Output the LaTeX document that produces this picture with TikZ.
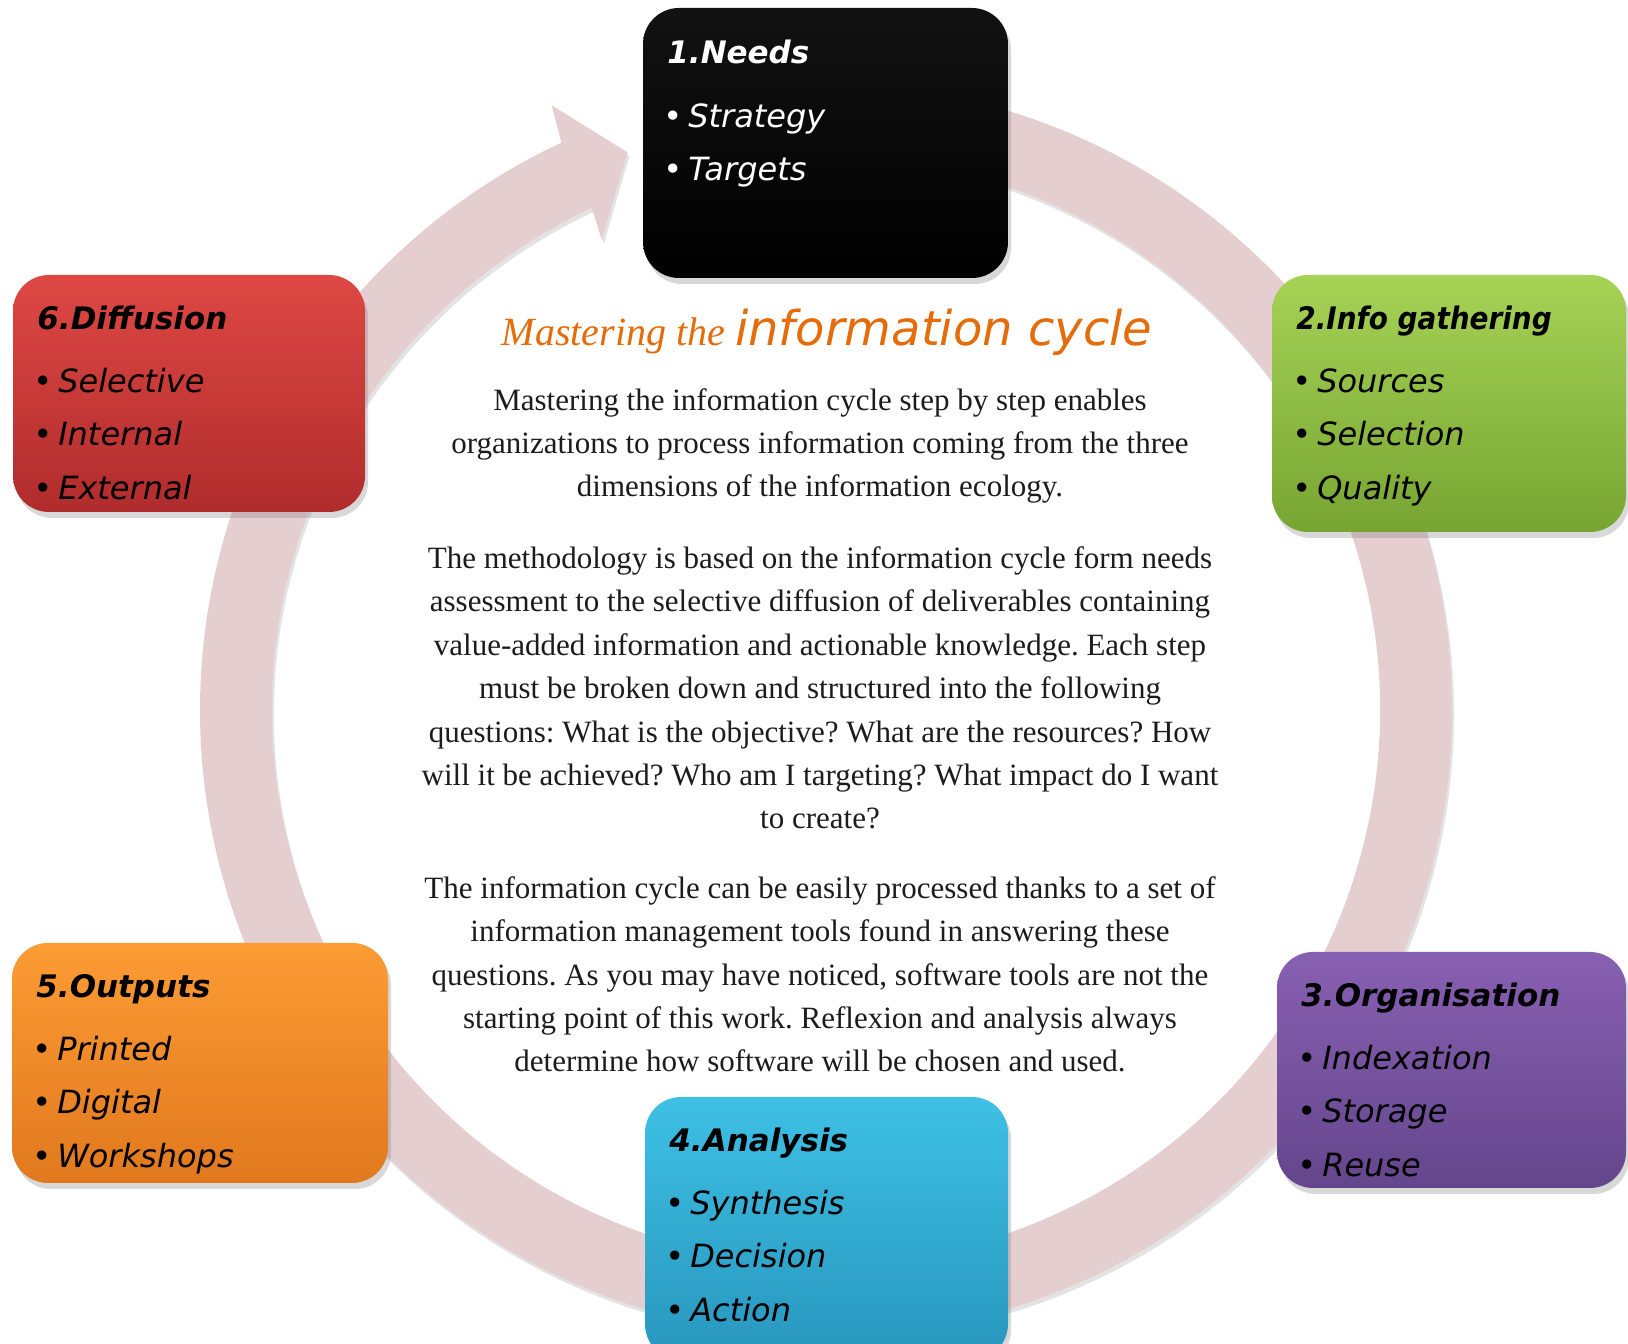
\documentclass[tikz,border=0pt]{standalone}
\usepackage{fontspec}
\setmainfont{Liberation Serif}
\newfontfamily\handfont{DejaVu Sans}
\usetikzlibrary{shadows,calc}
\frenchspacing
\definecolor{ringc}{RGB}{229,206,208}
\definecolor{bodyc}{RGB}{28,28,28}
\definecolor{titlec}{RGB}{228,108,10}
\definecolor{blkT}{RGB}{18,18,18}\definecolor{blkB}{RGB}{0,0,0}
\definecolor{redT}{RGB}{222,72,68}\definecolor{redB}{RGB}{176,44,44}
\definecolor{grnT}{RGB}{166,210,86}\definecolor{grnB}{RGB}{120,165,50}
\definecolor{orgT}{RGB}{252,156,52}\definecolor{orgB}{RGB}{225,120,30}
\definecolor{purT}{RGB}{136,96,178}\definecolor{purB}{RGB}{100,70,140}
\definecolor{bluT}{RGB}{62,192,228}\definecolor{bluB}{RGB}{40,150,190}
\tikzset{
  stepbox/.style={rectangle, rounded corners=18pt, inner sep=0pt, draw=none,
    drop shadow={opacity=0.3, shadow xshift=1.5pt, shadow yshift=-3pt}},
  boxtitle/.style={anchor=base west, inner sep=0pt, yshift=-2pt,
    font=\handfont\bfseries\itshape\fontsize{15.5}{19}\selectfont},
  boxitem/.style={anchor=base west, inner sep=0pt, yshift=-2pt,
    font=\handfont\itshape\fontsize{16}{19}\selectfont},
  body/.style={align=center, inner sep=0pt, text=bodyc,
    font=\fontsize{15.5}{21.7}\selectfont},
}
\begin{document}
\begin{tikzpicture}[x=0.5pt,y=0.5pt]
\useasboundingbox (0,0) rectangle (1628,1344);
\clip (0,0) rectangle (1628,1344);
\fill[white] (0,0) rectangle (1628,1344);
% ring arrow
\coordinate (C) at (826,634);
\fill[ringc, drop shadow={opacity=0.22, shadow xshift=1pt, shadow yshift=-2pt}]
  ($(C)+(92:313pt)$) arc[start angle=92, end angle=-245, radius=313pt]
  -- ($(C)+(114.4:332pt)$) -- ($(C)+(109.6:296pt)$) -- ($(C)+(115.5:260.5pt)$)
  -- ($(C)+(115:277pt)$) arc[start angle=-245, end angle=92, radius=277pt] -- cycle;

% boxes
\node[stepbox, top color=blkT, bottom color=blkB, minimum width=182.5pt, minimum height=135pt] (b1) at (825.5,1201) {};
\node[stepbox, top color=redT, bottom color=redB, minimum width=176pt, minimum height=118.5pt] (b6) at (189,950.5) {};
\node[stepbox, top color=grnT, bottom color=grnB, minimum width=177pt, minimum height=128.5pt] (b2) at (1449,940.5) {};
\node[stepbox, top color=orgT, bottom color=orgB, minimum width=188pt, minimum height=120pt] (b5) at (200,281) {};
\node[stepbox, top color=purT, bottom color=purB, minimum width=174.5pt, minimum height=118pt] (b3) at (1451.5,274) {};
\node[stepbox, top color=bluT, bottom color=bluB, minimum width=181.5pt, minimum height=131.5pt] (b4) at (826.5,115.5) {};

% box texts
\node[boxtitle, text=white] (t1) at (667,1284) {1.Needs};
\node[boxitem, text=white] (t1a) at (663,1220) {•\hspace{3pt}Strategy};
\node[boxitem, text=white] (t1b) at (663,1167) {•\hspace{3pt}Targets};

\node[boxtitle] (t6) at (37,1018) {6.Diffusion};
\node[boxitem] (t6a) at (33,955) {•\hspace{3pt}Selective};
\node[boxitem] (t6b) at (33,902) {•\hspace{3pt}Internal};
\node[boxitem] (t6c) at (33,848) {•\hspace{3pt}External};

\node[boxtitle] (t2) at (1296,1018) {\scalebox{0.9}[1]{2.Info gathering}};
\node[boxitem] (t2a) at (1292,955) {•\hspace{3pt}Sources};
\node[boxitem] (t2b) at (1292,902) {•\hspace{3pt}Selection};
\node[boxitem] (t2c) at (1292,848) {•\hspace{3pt}Quality};

\node[boxtitle] (t5) at (36,350) {5.Outputs};
\node[boxitem] (t5a) at (32,287) {•\hspace{3pt}Printed};
\node[boxitem] (t5b) at (32,234) {•\hspace{3pt}Digital};
\node[boxitem] (t5c) at (32,180) {•\hspace{3pt}Workshops};

\node[boxtitle] (t3) at (1301,341) {3.Organisation};
\node[boxitem] (t3a) at (1297,278) {•\hspace{3pt}Indexation};
\node[boxitem] (t3b) at (1297,225) {•\hspace{3pt}Storage};
\node[boxitem] (t3c) at (1297,171) {•\hspace{3pt}Reuse};

\node[boxtitle] (t4) at (669,196) {4.Analysis};
\node[boxitem] (t4a) at (665,133) {•\hspace{3pt}Synthesis};
\node[boxitem] (t4b) at (665,80) {•\hspace{3pt}Decision};
\node[boxitem] (t4c) at (665,26) {•\hspace{3pt}Action};

% centre title
\node[anchor=base, inner sep=0pt, text=titlec] (title) at (827,998)
  {{\fontsize{20}{24}\selectfont\itshape Mastering the\ }{\handfont\itshape\fontsize{24}{28}\selectfont information cycle}};

% centre paragraphs
\node[body] (p1) at (820,898) {Mastering the information cycle step by step enables\\
organizations to process information coming from the three\\
dimensions of the information ecology.};
\node[body] (p2) at (820,656) {The methodology is based on the information cycle form needs\\
assessment to the selective diffusion of deliverables containing\\
value-added information and actionable knowledge. Each step\\
must be broken down and structured into the following\\
questions: What is the objective? What are the resources? How\\
will it be achieved? Who am I targeting? What impact do I want\\
to create?};
\node[body] (p3) at (820,369.5) {The information cycle can be easily processed thanks to a set of\\
information management tools found in answering these\\
questions. As you may have noticed, software tools are not the\\
starting point of this work. Reflexion and analysis always\\
determine how software will be chosen and used.};
\end{tikzpicture}
\end{document}
